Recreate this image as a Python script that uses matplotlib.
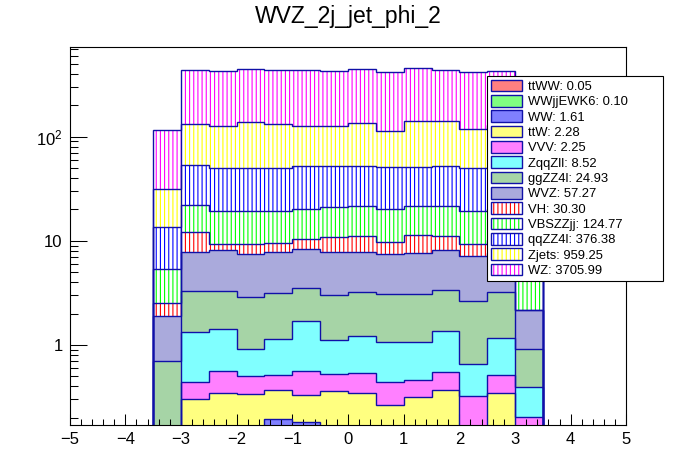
import numpy as np
import matplotlib
matplotlib.use("Agg")
import matplotlib.pyplot as plt
from matplotlib.patches import Patch
from matplotlib.legend_handler import HandlerTuple
from matplotlib.ticker import FixedLocator, LogLocator, MultipleLocator, FuncFormatter, NullFormatter

plt.rcParams['font.family'] = ['Liberation Sans', 'DejaVu Sans']
plt.rcParams['mathtext.default'] = 'regular'
plt.rcParams['hatch.linewidth'] = 0.8
plt.rcParams['axes.unicode_minus'] = True

# ---------------- data ----------------
title = "WVZ_2j_jet_phi_2"
bin_edges = [-3.5, -3.0, -2.5, -2.0, -1.5, -1.0, -0.5, 0.0, 0.5, 1.0, 1.5, 2.0, 2.5, 3.0, 3.5]

# stacked from bottom (ttWW) to top (WZ)
series_names = ["ttWW", "WWjjEWK6", "WW", "ttW", "VVV", "ZqqZll", "ggZZ4l",
                "WVZ", "VH", "VBSZZjj", "qqZZ4l", "Zjets", "WZ"]
series_totals = ["0.05", "0.10", "1.61", "2.28", "2.25", "8.52", "24.93",
                 "57.27", "30.30", "124.77", "376.38", "959.25", "3705.99"]

ttWW = [0.002, 0.004, 0.004, 0.004, 0.004, 0.004, 0.004, 0.004, 0.004, 0.004, 0.004, 0.004, 0.004, 0.002]
WWjjEWK6 = [0.003, 0.007, 0.007, 0.007, 0.007, 0.007, 0.007, 0.007, 0.007, 0.007, 0.007, 0.007, 0.007, 0.003]
WW = [0.02, 0.12, 0.14, 0.15, 0.185, 0.172, 0.14, 0.12, 0.11, 0.13, 0.14, 0.08, 0.12, 0.02]
ttW = [0.03, 0.170, 0.193, 0.175, 0.171, 0.146, 0.208, 0.213, 0.143, 0.174, 0.216, 0.06, 0.213, 0.04]
VVV = [0.04, 0.137, 0.215, 0.164, 0.144, 0.230, 0.164, 0.191, 0.175, 0.144, 0.180, 0.171, 0.168, 0.139]
ZqqZll = [0.07, 0.885, 0.856, 0.409, 0.622, 1.129, 0.586, 0.677, 0.622, 0.603, 0.807, 0.331, 0.648, 0.194]
ggZZ4l = [0.542, 1.995, 1.904, 1.961, 2.001, 1.860, 1.890, 1.993, 2.005, 2.005, 2.055, 1.974, 2.045, 0.524]
WVZ = [1.191, 4.434, 4.786, 4.548, 4.618, 4.738, 4.754, 4.548, 4.352, 4.520, 4.696, 4.442, 4.432, 1.246]
VH = [0.615, 4.31, 1.15, 1.84, 1.71, 2.05, 3.05, 3.30, 2.26, 3.70, 2.95, 2.19, 2.54, 0.0]
VBSZZjj = [2.81, 9.85, 9.93, 9.93, 9.73, 9.72, 10.16, 10.38, 10.39, 10.14, 10.38, 9.85, 10.02, 3.08]
qqZZ4l = [8.15, 31.12, 30.44, 30.44, 30.44, 31.82, 30.92, 30.45, 30.68, 29.31, 30.45, 30.52, 30.88, 8.03]
Zjets = [17.7, 78.2, 76.0, 87.6, 81.6, 73.7, 73.7, 82.3, 61.7, 89.5, 88.3, 67.9, 78.1, 18.8]
WZ = [84.5, 301.7, 297.8, 305.3, 301.7, 307.3, 297.8, 308.3, 301.7, 312.2, 300.3, 302.1, 299.8, 88.8]

series_values = [ttWW, WWjjEWK6, WW, ttW, VVV, ZqqZll, ggZZ4l, WVZ, VH, VBSZZjj, qqZZ4l, Zjets, WZ]

x_ticks = [-5, -4, -3, -2, -1, 0, 1, 2, 3, 4, 5]
y_ticks = [1, 10, 100]

# ---------------- styles ----------------
navy = "#1010a8"
# (facecolor, hatch, hatchcolor)
styles = {
    "ttWW":     ("#ff8080", None, None),
    "WWjjEWK6": ("#80ff80", None, None),
    "WW":       ("#8080ff", None, None),
    "ttW":      ("#ffff80", None, None),
    "VVV":      ("#ff80ff", None, None),
    "ZqqZll":   ("#80ffff", None, None),
    "ggZZ4l":   ("#a6d4a6", None, None),
    "WVZ":      ("#aaaadc", None, None),
    "VH":       ("white", "||||", "#ff0000"),
    "VBSZZjj":  ("white", "||||", "#00ff00"),
    "qqZZ4l":   ("white", "||||", "#0000ff"),
    "Zjets":    ("white", "||||", "#ffff00"),
    "WZ":       ("white", "||||", "#ff00ff"),
}

W, H = 696, 472
fig = plt.figure(figsize=(W / 100, H / 100), dpi=100)
ax = fig.add_axes([0.1, 0.1, 0.8, 0.8])
ax.set_yscale("log")

edges = np.array(bin_edges)
floor = 1e-4
cum = np.zeros(len(edges) - 1)
tops = []
handles = []
for name, vals in zip(series_names, series_values):
    v = np.array(vals, dtype=float)
    lower = np.maximum(cum, floor)
    upper = np.maximum(cum + v, floor)
    fc, hatch, hc = styles[name]
    ax.stairs(upper, edges, baseline=lower, fill=True, facecolor=fc,
              hatch=hatch, edgecolor=(hc if hc else fc), linewidth=0, zorder=1)
    cum = cum + v
    tops.append(upper.copy())

for up in tops:
    ax.stairs(up, edges, baseline=floor, fill=False, edgecolor=navy,
              linewidth=1.0, zorder=2)

for name, tot in zip(series_names, series_totals):
    fc, hatch, hc = styles[name]
    p_fill = Patch(facecolor=fc, hatch=hatch, edgecolor=(hc if hc else fc), linewidth=0)
    p_line = Patch(facecolor="none", edgecolor=navy, linewidth=1.0)
    handles.append(((p_fill, p_line), f"{name}: {tot}"))

# ---------------- axes ----------------
ax.set_xlim(-5, 5)
ymin = 10 ** (-(424.8 - 345) / 104.2)
ymax = 10 ** ((345 - 47.2) / 104.2)
ax.set_ylim(ymin, ymax)

ax.xaxis.set_major_locator(FixedLocator(x_ticks))
ax.xaxis.set_minor_locator(MultipleLocator(0.2))
ax.yaxis.set_major_locator(FixedLocator(y_ticks))
ax.yaxis.set_minor_locator(LogLocator(base=10, subs=np.arange(2, 10)))
ax.yaxis.set_minor_formatter(NullFormatter())

def yfmt(v, pos):
    if v >= 100:
        return r"$10^{%d}$" % int(round(np.log10(v)))
    return "%d" % int(round(v))
ax.yaxis.set_major_formatter(FuncFormatter(yfmt))

ax.tick_params(axis="x", which="major", direction="in", length=8.1, width=0.75,
               top=False, labelsize=12, pad=5)
ax.tick_params(axis="x", which="minor", direction="in", length=4.0, width=0.75, top=False)
ax.tick_params(axis="y", which="major", direction="in", length=12, width=0.75,
               right=False, labelsize=12, pad=5)
ax.tick_params(axis="y", which="minor", direction="in", length=6, width=0.75, right=False)
for s in ax.spines.values():
    s.set_linewidth(0.8)
    s.set_color("black")
    s.set_zorder(5)

fig.text(0.5, 1 - 22.7 / H, title, ha="center", va="baseline", fontsize=16.5)

leg = fig.legend([h for h, _ in handles], [l for _, l in handles],
                 handler_map={tuple: HandlerTuple(ndivide=1)},
                 loc="upper left",
                 bbox_to_anchor=(487.3 / W, 1 - 283 / H, (663 - 487.3) / W, (283 - 75.7) / H),
                 bbox_transform=fig.transFigure, mode="expand", borderaxespad=0,
                 fontsize=9.4, handlelength=2.37, handleheight=1.0, handletextpad=0.42,
                 labelspacing=0.155, borderpad=0.3, fancybox=False, framealpha=1,
                 edgecolor="black", frameon=True)
leg.get_frame().set_linewidth(0.8)
leg.set_zorder(10)

fig.savefig("out.png", dpi=100, facecolor="white")
